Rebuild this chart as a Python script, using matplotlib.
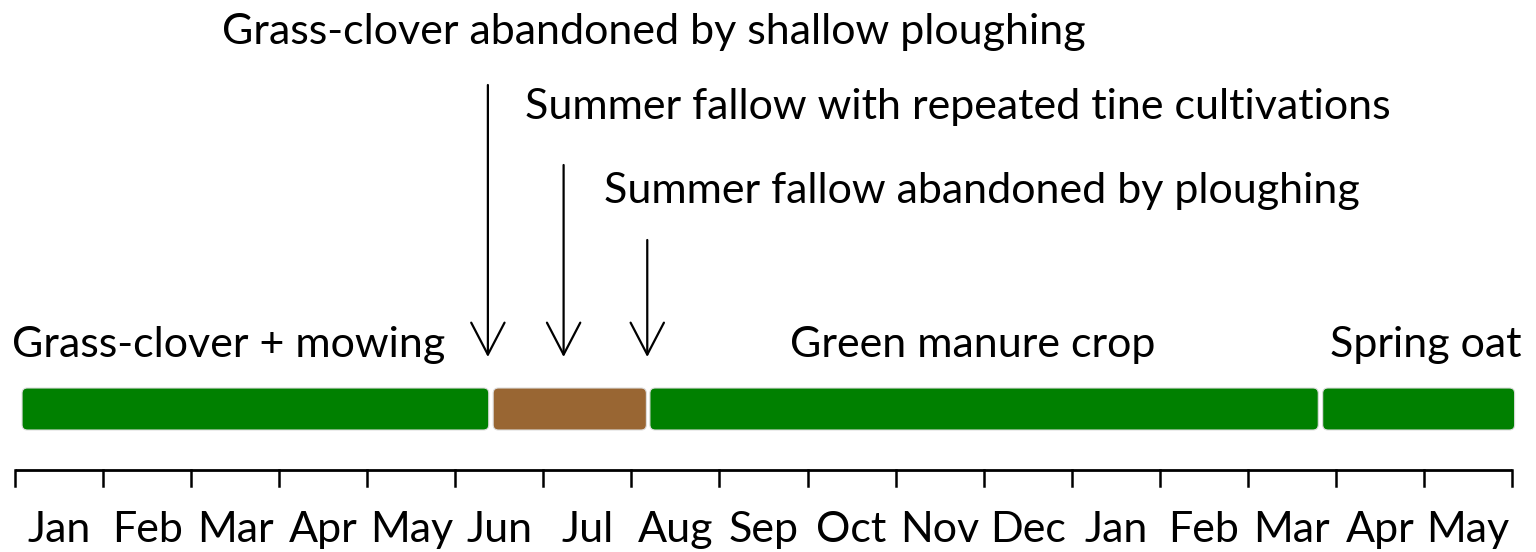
import matplotlib
matplotlib.use("Agg")
import matplotlib.pyplot as plt
from matplotlib.patches import FancyBboxPatch, FancyArrowPatch

months = ["Jan", "Feb", "Mar", "Apr", "May", "Jun", "Jul", "Aug", "Sep",
          "Oct", "Nov", "Dec", "Jan", "Feb", "Mar", "Apr", "May"]
seg_labels = ["Grass-clover + mowing", "", "Green manure crop", "Spring oat"]
seg_start = [0.08, 5.43, 7.21, 14.85]
seg_end = [5.38, 7.17, 14.80, 17.03]
seg_colors = ["#008000", "#996633", "#008000", "#008000"]
label_x = [2.43, None, 10.87, 16.02]
event_labels = ["Grass-clover abandoned by shallow ploughing",
                "Summer fallow with repeated tine cultivations",
                "Summer fallow abandoned by ploughing"]
event_x = [5.37, 6.23, 7.18]
event_top = [85, 165, 240]
event_text_x = [7.25, 10.71, 10.98]
event_text_y = [32, 107, 191]

plt.rcParams['font.family'] = ['Lato', 'DejaVu Sans']
fig = plt.figure(figsize=(15.36, 5.52), dpi=100)
x0, x1 = 15, 1512
ax = fig.add_axes([x0 / 1536, 0, (x1 - x0) / 1536, 1])
ax.set_xlim(0, 17)
ax.set_ylim(552, 0)
ax.axis("off")

bar_top, bar_h = 388, 42
for s, e, c in zip(seg_start, seg_end, seg_colors):
    p = FancyBboxPatch((s, bar_top), e - s, bar_h,
                       boxstyle="round,pad=0,rounding_size=0.06",
                       mutation_aspect=88, fc=c, ec="#dddddd", lw=0.8,
                       clip_on=False)
    ax.add_patch(p)

fs = 31
for lab, lx in zip(seg_labels, label_x):
    if lab:
        ax.text(lx, 345, lab, ha="center", va="center", fontsize=fs, clip_on=False)

# axis
ax.plot([0, 17], [470, 470], color="black", lw=2, clip_on=False, solid_capstyle="butt")
for i in range(len(months) + 1):
    ax.plot([i, i], [470, 486], color="black", lw=1.8, clip_on=False)
for i, m in enumerate(months):
    ax.text(i + 0.5, 530, m, ha="center", va="center", fontsize=fs, clip_on=False)

for lab, ex, et, tx, ty in zip(event_labels, event_x, event_top, event_text_x, event_text_y):
    ar = FancyArrowPatch((ex, et), (ex, 357),
                         arrowstyle="->,head_length=2.3,head_width=1.2",
                         mutation_scale=10, lw=1.6, color="black", clip_on=False,
                         shrinkA=0, shrinkB=0)
    ax.add_patch(ar)
    ax.text(tx, ty, lab, ha="center", va="center", fontsize=fs, clip_on=False)

fig.savefig("out.png", dpi=100)
